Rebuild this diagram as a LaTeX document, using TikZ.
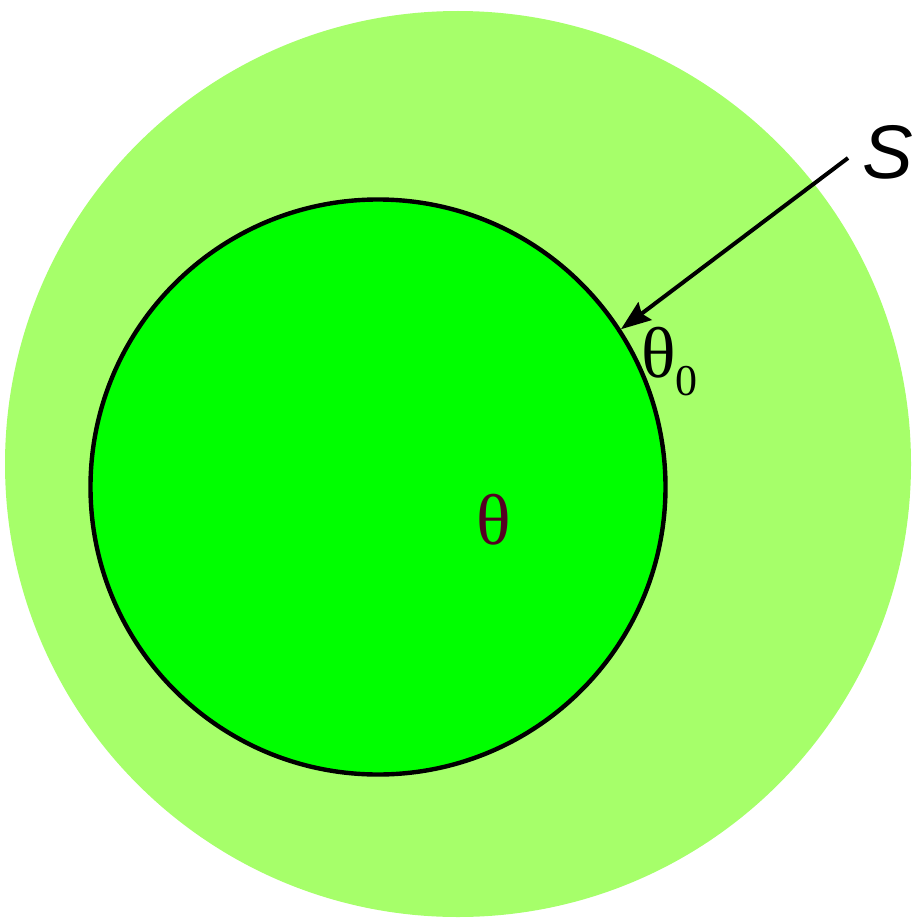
\documentclass[tikz,border=0pt]{standalone}
\usepackage{fontspec}
\setmainfont{Liberation Serif}
\newfontfamily\labelsans{Liberation Sans}
\usepackage{tikz}
\usetikzlibrary{arrows.meta,positioning}
\definecolor{fieldlight}{RGB}{166,255,106}
\definecolor{fieldcore} {RGB}{0,255,0}
\definecolor{thetared}  {RGB}{85,0,35}
\tikzset{
  disc/.style={circle,inner sep=0pt,fill=#1,minimum size=453pt},
  disc/.default=fieldlight,
  core/.style={circle,inner sep=0pt,draw=black,line width=2.2pt,
               fill=fieldcore,minimum size=287.5pt},
  pointer/.style={-{Stealth[length=15pt,width=11pt,inset=2pt]},line width=2pt},
  anglabel/.style={inner sep=0pt,font=\fontsize{36}{36}\selectfont},
}
\begin{document}
\begin{tikzpicture}[x=0.5pt,y=-0.5pt]
    \useasboundingbox (0,0) rectangle (911,920);
    \node[disc] (outer) at (458,464) {};
    \node[core] (inner) at (378,487) {};
    % source point and its label
    \coordinate (sfoot) at (848,158);
    \node[inner sep=0pt,anchor=base,
          font=\labelsans\itshape\fontsize{38}{38}\selectfont]
          (slabel) at (888,178) {S};
    \draw[pointer] (sfoot) -- (inner.33);
    \node[anglabel,anchor=base west] (thetazero) at (641,377)
          {θ\raisebox{-9pt}{\fontsize{22}{22}\selectfont 0}};
    \node[anglabel,anchor=base,text=thetared] (theta) at (494,544) {θ};
\end{tikzpicture}
\end{document}
